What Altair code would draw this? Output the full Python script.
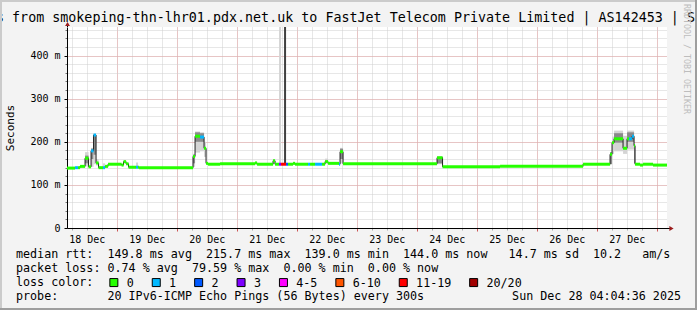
import altair as alt
import pandas as pd

MONO = "DejaVu Sans Mono"

# ---------------- data ----------------
# median RTT drawn as steps: start hour (hours after 18 Dec 00:00), value (ms), loss bucket
med_hour = [4.08, 7.3, 8.5, 9.3, 11.3, 12.7, 13.7, 14.7, 15.7, 16.7, 18.5, 19.3, 20.5, 25.9, 26.7,
            27.7, 28.7, 31.7, 32.5, 32.9, 54.5, 55.3, 57.3, 58.9, 59.7, 60.5, 65.3, 79.3, 80.1,
            86.5, 87.3, 88.9, 89.7, 91.7, 92.5, 94.5, 95.3, 100.5, 101.3, 103.3, 106.1, 107.3,
            108.5, 112.9, 113.3, 114.5, 152.1, 154.3, 177.3, 210.5, 221.3, 222.1, 222.9, 226.5,
            228.1, 228.9, 230.1, 230.9, 231.3, 233.3, 234.5, 238.5]
med_ms = [139, 140, 140, 143, 162, 142, 179, 215.7, 151, 140, 140, 143, 148, 146, 154,
          149, 141, 141, 141, 140, 166, 213, 211, 185, 150, 148, 149, 151, 148,
          156, 148, 148, 148, 148, 148, 150, 148, 148, 148, 148, 148, 154,
          150, 148, 177, 149, 163, 142, 143, 148, 171, 198, 207, 185,
          207, 207, 213, 191, 148, 146, 148, 146]
med_loss = ["0", "1", "0", "0", "0", "0", "1", "1", "0", "0", "1", "0", "0", "0", "0",
            "0", "0", "1", "0", "0", "0", "0", "1", "0", "0", "0", "0", "0", "0",
            "0", "0", "3", "11-19", "2", "0", "0", "0", "1", "0", "1", "0", "0",
            "0", "1", "0", "0", "0", "0", "0", "0", "0", "0", "0", "0",
            "0", "1", "1", "0", "0", "0", "0", "0"]
end_hour = 244.08  # 28 Dec 04:04:36

# smoke (spread of the 20 pings): start/end hour, low/high ms, tone
smoke_start = [11.3, 11.3, 13.7, 13.7, 14.7, 14.7, 15.7, 18.5, 31.7, 54.5, 54.5, 55.3, 55.3,
               57.3, 57.3, 58.9, 86.5, 88.9, 90.9, 107.3, 113.3, 113.3, 152.1, 152.1,
               221.3, 222.1, 222.9, 222.9, 226.5, 228.1, 228.1, 230.9]
smoke_end = [12.7, 12.7, 14.7, 14.7, 15.7, 15.7, 16.7, 19.3, 32.5, 55.3, 55.3, 57.3, 57.3,
             58.9, 58.9, 59.7, 87.3, 89.7, 91.7, 108.5, 114.5, 114.5, 154.3, 154.3,
             222.1, 222.9, 226.5, 226.5, 228.1, 230.9, 230.9, 231.3]
smoke_lo = [143, 150, 142, 160, 148, 170, 145, 141, 141, 142, 150, 175, 200,
            178, 200, 165, 148, 148, 148, 150, 150, 160, 148, 150,
            148, 172, 178, 198, 172, 182, 200, 150]
smoke_hi = [176, 168, 186, 184, 219, 216, 160, 150, 152, 172, 170, 224, 222,
            222, 220, 200, 160, 1000, 1000, 161, 186, 184, 166, 165,
            176, 212, 226, 220, 214, 226, 222, 195]
smoke_tone = ["light", "dark", "light", "dark", "light", "dark", "light", "light", "light",
              "light", "dark", "light", "dark", "light", "dark", "light", "light", "light",
              "black", "light", "light", "dark", "light", "dark", "dark", "light", "light",
              "dark", "light", "light", "dark", "dark"]

loss_cats = ["0", "1", "2", "3", "4-5", "6-10", "11-19", "20/20"]

rtt_stats = ["149.8 ms avg", "215.7 ms max", "139.0 ms min", "144.0 ms now", " 14.7 ms sd", "10.2   am/s"]
loss_stats = ["0.74 % avg", "79.59 % max", "0.00 % min", "0.00 % now"]
probe_text = "20 IPv6-ICMP Echo Pings (56 Bytes) every 300s"
stamp_text = "Sun Dec 28 04:04:36 2025"
title_text = "s from smokeping-thn-lhr01.pdx.net.uk to FastJet Telecom Private Limited | AS142453 | Sa"
watermark_text = "RRDTOOL / TOBI OETIKER"

# ---------------- styles ----------------
loss_colors = ["#26ff00", "#00b8ff", "#0059ff", "#7e00ff", "#ff00ff", "#ff5500", "#ff0000", "#a10000"]
tone_colors = {"light": "#d4d4d4", "dark": "#8a8a8a", "black": "#404040"}
loss_color_map = dict(zip(loss_cats, loss_colors))

base = pd.Timestamp("2025-12-18")


def to_time(hours):
    return base + pd.to_timedelta(pd.Series(hours, dtype=float), unit="h")


med = pd.DataFrame({"t": to_time(med_hour), "ms": med_ms, "loss": med_loss})
med["t_end"] = list(med["t"].iloc[1:]) + [to_time([end_hour]).iloc[0]]
med["col"] = med["loss"].map(loss_color_map)

line_df = pd.concat([med[["t", "ms"]],
                     pd.DataFrame({"t": to_time([end_hour]), "ms": [med_ms[-1]]})],
                    ignore_index=True)

smoke = pd.DataFrame({"t": to_time(smoke_start), "t_end": to_time(smoke_end),
                      "lo": smoke_lo, "hi": smoke_hi, "tone": smoke_tone})
smoke["col"] = smoke["tone"].map(tone_colors)

# ---------------- scales / axes ----------------
x_scale = alt.Scale(domain=[alt.DateTime(year=2025, month=12, date=18, hours=4, minutes=4, seconds=36),
                            alt.DateTime(year=2025, month=12, date=28, hours=4, minutes=4, seconds=36)],
                    nice=False)
y_scale = alt.Scale(domain=[0, 466.4], nice=False, zero=False)

minor_x_vals = []
for d in range(18, 29):
    for h in (0, 6, 12, 18):
        if (d == 18 and h < 6) or (d == 28 and h > 0):
            continue
        minor_x_vals.append(alt.DateTime(year=2025, month=12, date=d, hours=h))
major_x_vals = [alt.DateTime(year=2025, month=12, date=d) for d in range(19, 29)]

GRID = "#cfcfcf"
MGRID = "#e6a2a2"

minor_x_axis = alt.Axis(orient="bottom", values=minor_x_vals, grid=True, gridColor=GRID, gridDash=[1, 1],
                        labels=False, domain=False, ticks=True, tickSize=2, tickColor="#aaaaaa",
                        title=None)
minor_y_axis = alt.Axis(orient="left", values=list(range(20, 461, 20)), grid=True, gridColor=GRID,
                        gridDash=[1, 1], labels=False, domain=False, ticks=True, tickSize=2,
                        tickColor="#777777", title=None)
major_x_axis = alt.Axis(orient="bottom", values=major_x_vals, grid=True, gridColor=MGRID, gridDash=[1, 1],
                        labelExpr="timeFormat(datum.value - 43200000, '%d %b')",
                        labelOffset=-30, labelFont=MONO, labelFontSize=10, labelColor="black",
                        labelPadding=3, labelFlush=False, labelOverlap=False, labelBaseline="top",
                        ticks=True, tickSize=3, tickColor="#cc5555",
                        domain=True, domainColor="black", domainWidth=1, title=None)
major_y_axis = alt.Axis(orient="left", values=[0, 100, 200, 300, 400], grid=True, gridColor=MGRID,
                        gridDash=[1, 1],
                        labelExpr="datum.value == 0 ? '0' : datum.value + ' m'",
                        labelFont=MONO, labelFontSize=10, labelColor="black", labelPadding=4,
                        labelFlush=False, ticks=True, tickSize=3, tickColor="black",
                        domain=True, domainColor="black", domainWidth=1,
                        title="Seconds", titleFont=MONO, titleFontSize=11, titleFontWeight="normal",
                        titleColor="black", titleX=-57, titleY=100.5, titleAngle=270,
                        titleBaseline="middle", titleAlign="center")

# ---------------- layers ----------------
smoke_layer = alt.Chart(smoke).mark_rect(clip=True).encode(
    x=alt.X("t:T", scale=x_scale, axis=minor_x_axis),
    x2="t_end:T",
    y=alt.Y("lo:Q", scale=y_scale, axis=minor_y_axis),
    y2="hi:Q",
    color=alt.Color("col:N", scale=None),
)

dark_line = alt.Chart(line_df).mark_line(interpolate="step-after", color="#202020", strokeWidth=1).encode(
    x=alt.X("t:T", scale=x_scale, axis=major_x_axis),
    y=alt.Y("ms:Q", scale=y_scale, axis=major_y_axis),
)

colored = alt.Chart(med).mark_rule(strokeWidth=3, strokeCap="butt").encode(
    x=alt.X("t:T", scale=x_scale, axis=None),
    x2="t_end:T",
    y=alt.Y("ms:Q", scale=y_scale, axis=None),
    color=alt.Color("col:N", scale=None),
)

legend_layer = alt.Chart(med).mark_square(opacity=0, size=4).encode(
    x=alt.X("t:T", scale=x_scale, axis=None),
    y=alt.Y("ms:Q", scale=y_scale, axis=None),
    fill=alt.Fill("loss:N", scale=alt.Scale(domain=loss_cats, range=loss_colors),
                  legend=alt.Legend(orient="none", legendX=41, legendY=249.5, direction="horizontal",
                                    columns=8, title=None, symbolType="square", symbolSize=64,
                                    symbolStrokeColor="black", symbolStrokeWidth=1, symbolOpacity=1,
                                    labelFont=MONO, labelFontSize=11.7, labelColor="black",
                                    labelOffset=7, columnPadding=15.4, padding=0)),
)

one = pd.DataFrame({"s": [""]})
NB = "\u00a0"


def text_layer(s, x, y, size=11.7, align="left", baseline="middle", color="black", angle=0):
    s = s.replace(" ", NB)  # keep runs of spaces (monospaced layout)
    return alt.Chart(pd.DataFrame({"s": [s]})).mark_text(
        align=align, baseline=baseline, font=MONO, fontSize=size, color=color, angle=angle
    ).encode(text="s:N", x=alt.value(x), y=alt.value(y))


row1 = "median rtt:  " + "  ".join(rtt_stats)
row2 = "packet loss: " + "  ".join(loss_stats)
row4 = "probe:       " + probe_text

texts = [
    text_layer(title_text, -71, -5.5, size=13.35, baseline="alphabetic"),
    text_layer(watermark_text, 619, -23, size=8.3, color="#bdbdbd", angle=90),
    text_layer(row1, -51, 227.3),
    text_layer(row2, -51, 241.3),
    text_layer("loss color:", -51, 255.3),
    text_layer(row4, -51, 269),
    text_layer(stamp_text, 614, 269, align="right"),
]

ARROW = "#9b1c1c"
decor = [
    alt.Chart(one).mark_rule(color="black", strokeWidth=1).encode(
        x=alt.value(0.5), y=alt.value(-3), y2=alt.value(0)),
    alt.Chart(one).mark_point(shape="triangle-up", filled=True, size=24, color=ARROW, opacity=1).encode(
        x=alt.value(0.5), y=alt.value(-3)),
    alt.Chart(one).mark_rule(color="black", strokeWidth=1).encode(
        x=alt.value(600), x2=alt.value(603), y=alt.value(201.5)),
    alt.Chart(one).mark_point(shape="triangle-right", filled=True, size=24, color=ARROW, opacity=1).encode(
        x=alt.value(604.5), y=alt.value(201.5)),
    # 3D frame of the image
    alt.Chart(one).mark_rule(color="#cbcbcb", strokeWidth=2).encode(
        x=alt.value(-67), x2=alt.value(630), y=alt.value(-26)),
    alt.Chart(one).mark_rule(color="#cbcbcb", strokeWidth=2).encode(
        x=alt.value(-66), y=alt.value(-27), y2=alt.value(283)),
    alt.Chart(one).mark_rule(color="#9e9e9e", strokeWidth=2).encode(
        x=alt.value(629), y=alt.value(-27), y2=alt.value(283)),
    alt.Chart(one).mark_rule(color="#9e9e9e", strokeWidth=2).encode(
        x=alt.value(-67), x2=alt.value(630), y=alt.value(282)),
]

chart = alt.layer(smoke_layer, dark_line, colored, legend_layer, *texts, *decor).resolve_axis(
    x="independent", y="independent"
).properties(
    width=600, height=201,
    autosize=alt.AutoSizeParams(type="none"),
    padding={"left": 67, "top": 27, "right": 30, "bottom": 82},
    background="#f3f3f3",
).configure_view(fill="white", stroke=None)

chart.save("out.html", embed_options={"renderer": "svg", "actions": False})
